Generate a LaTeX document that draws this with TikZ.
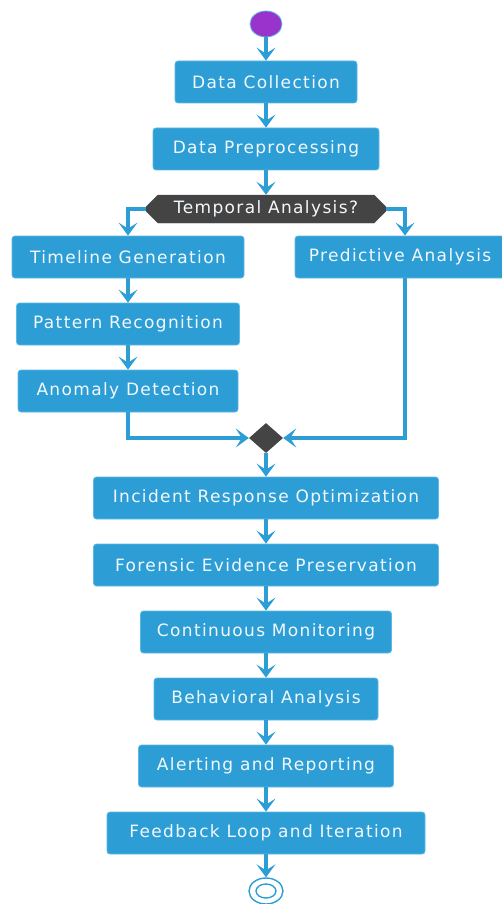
\documentclass[tikz,border=0pt]{standalone}
\usepackage{fontspec}
\setmainfont{DejaVu Sans}
\newfontfamily\actfont[LetterSpace=8]{DejaVu Sans}
\usepackage{tikz}
\usetikzlibrary{positioning, calc, arrows.meta, shapes.misc, shapes.geometric}
\definecolor{actblue}{HTML}{2C9ED5}
\definecolor{actline}{HTML}{5DB8E6}
\definecolor{actdark}{HTML}{444444}
\definecolor{acttext}{HTML}{F2F8FC}
\definecolor{startpurple}{HTML}{9933CC}
\tikzset{
  act/.style={draw=actline, fill=actblue, rounded corners=3pt, line width=0.8pt,
    text=acttext, font=\actfont\fontsize{17}{19}\selectfont, inner sep=0pt},
  flow/.style={draw=actblue, line width=3.4pt, -{Stealth[length=13pt,width=19pt,inset=6pt]}}
}
\newcommand{\actbox}[4]{
\node[act, minimum width=#3, minimum height=42] (#1) at #2 {#4};
}

\begin{document}
\begin{tikzpicture}[x=1pt,y=-1pt]
                \useasboundingbox (0,0) rectangle (502,904);
                % start and end
                \node[ellipse, fill=startpurple, draw=actline, line width=0.8pt, minimum width=32, minimum height=26, inner sep=0pt] (start) at (266,24) {};
                \node[ellipse, draw=actblue, line width=1.4pt, minimum width=34, minimum height=26, inner sep=0pt] (stop) at (266,891) {};
                \node[ellipse, draw=actblue, line width=1.4pt, minimum width=20, minimum height=14, inner sep=0pt] (stopin) at (266,891) {};
                % main activities
                \actbox{collect}{(266,82)}{182}{Data Collection}
                \actbox{prep}{(266,149)}{226}{Data Preprocessing}
                \node[chamfered rectangle, chamfered rectangle xsep=14pt, fill=actdark, draw=actdark,
                  text=acttext, font=\actfont\fontsize{17}{19}\selectfont, minimum width=240, minimum height=28, inner sep=0pt] (temporal) at (266,209) {Temporal Analysis?};
                \actbox{timeline}{(128,257)}{232}{Timeline Generation}
                \actbox{predict}{(400,257)}{210}{Predictive Analysis}
                \actbox{pattern}{(128,324)}{223}{Pattern Recognition}
                \actbox{anomaly}{(128,391)}{220}{Anomaly Detection}
                \node[diamond, fill=actdark, minimum width=34, minimum height=30, inner sep=0pt] (merge) at (266,438) {};
                \actbox{incident}{(266,498)}{345}{Incident Response Optimization}
                \actbox{forensic}{(266,565)}{345}{Forensic Evidence Preservation}
                \actbox{monitor}{(266,632)}{251}{Continuous Monitoring}
                \actbox{behave}{(266,699)}{224}{Behavioral Analysis}
                \actbox{alert}{(266,766)}{255}{Alerting and Reporting}
                \actbox{feedback}{(266,833)}{318}{Feedback Loop and Iteration}
                % connectors
                \draw[flow] (start) -- (collect);
                \draw[flow] (collect) -- (prep);
                \draw[flow] (prep) -- (temporal);
                \draw[flow] (temporal.west) -| (timeline.north);
                \draw[flow] (temporal.east) -| ($(predict.north)+(5,0)$);
                \draw[flow] (timeline) -- (pattern);
                \draw[flow] (pattern) -- (anomaly);
                \draw[flow] (anomaly.south) |- (merge.west);
                \draw[flow] ($(predict.south)+(5,0)$) |- (merge.east);
                \draw[flow] (merge) -- (incident);
                \draw[flow] (incident) -- (forensic);
                \draw[flow] (forensic) -- (monitor);
                \draw[flow] (monitor) -- (behave);
                \draw[flow] (behave) -- (alert);
                \draw[flow] (alert) -- (feedback);
                \draw[flow] (feedback) -- (stop);
\end{tikzpicture}
\end{document}
